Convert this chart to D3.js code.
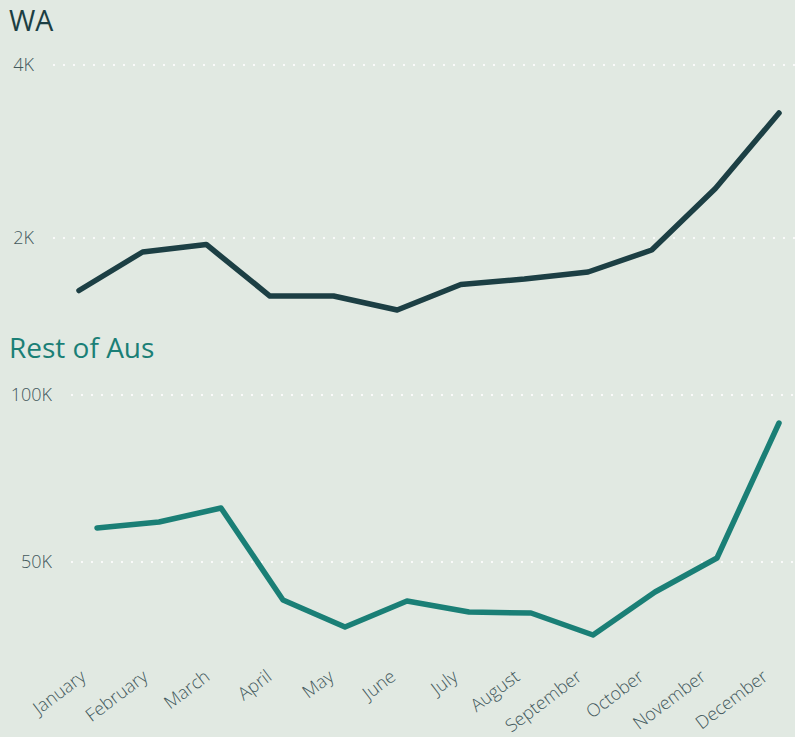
<!DOCTYPE html>
<html>
<head>
<meta charset="utf-8">
<script src="https://cdn.jsdelivr.net/npm/d3@7.9.0/dist/d3.min.js"></script>
<style>
  html, body { margin: 0; padding: 0; background: #e1e9e2; }
  svg { display: block; font-family: "Segoe UI", "Open Sans", sans-serif; }
  .tick-label { font-size: 18px; font-weight: 300; fill: #44595d; }
  .month-label { font-size: 18px; font-weight: 300; fill: #44595d; }
</style>
</head>
<body>
<svg id="chart" width="795" height="737"></svg>
<script>
// Monthly values
const months = ['January', 'February', 'March', 'April', 'May', 'June',
  'July', 'August', 'September', 'October', 'November', 'December'];
const waValues = [1393, 1838, 1925, 1329, 1329, 1168, 1462, 1526, 1607, 1861, 2572, 3445];
const restValues = [60180, 61980, 66170, 38620, 30540, 38320, 35030, 34730, 28140, 41020, 51200, 91620];
const waTicks = [2000, 4000];
const restTicks = [50000, 100000];

const width = 795;
const svg = d3.select('#chart');

const fmtK = (d) => `${d / 1000}K`;

const panels = [
  {
    title: 'WA', titleY: 31, titleSize: 28.5, color: '#1c3f44',
    values: waValues, ticks: waTicks,
    left: 53, domain: [1000, 4000], range: [324.5, 65],
  },
  {
    title: 'Rest of Aus', titleY: 358, titleSize: 28, color: '#1a7f76',
    values: restValues, ticks: restTicks,
    left: 71, domain: [50000, 100000], range: [562, 395],
  },
];

panels.forEach((p) => {
  const x = d3.scalePoint().domain(months).range([p.left + 26, width - 16]);
  const y = d3.scaleLinear().domain(p.domain).range(p.range);
  p.x = x;

  const g = svg.append('g');

  g.append('text')
    .attr('x', 9)
    .attr('y', p.titleY)
    .attr('font-size', p.titleSize)
    .attr('fill', p.color)
    .text(p.title);

  // dotted gridlines + labels
  const grid = g.selectAll('g.grid')
    .data(p.ticks)
    .join('g')
    .attr('class', 'grid')
    .attr('transform', (d) => `translate(0,${y(d)})`);

  grid.append('line')
    .attr('x1', p.left)
    .attr('x2', width)
    .attr('stroke', '#fafafa')
    .attr('stroke-width', 2)
    .attr('stroke-dasharray', '2,8');

  grid.append('text')
    .attr('class', 'tick-label')
    .attr('x', p.left - 19)
    .attr('dy', '0.35em')
    .attr('text-anchor', 'end')
    .text(fmtK);

  const line = d3.line()
    .x((d, i) => x(months[i]))
    .y((d) => y(d));

  g.append('path')
    .datum(p.values)
    .attr('d', line)
    .attr('fill', 'none')
    .attr('stroke', p.color)
    .attr('stroke-width', 5.5)
    .attr('stroke-linecap', 'round')
    .attr('stroke-linejoin', 'round');
});

// rotated month labels under the lower panel
const xBottom = panels[1].x;
svg.append('g')
  .selectAll('text')
  .data(months)
  .join('text')
  .attr('class', 'month-label')
  .attr('text-anchor', 'end')
  .attr('transform', (d) => `translate(${xBottom(d) - 10},679) rotate(-37)`)
  .text((d) => d);
</script>
</body>
</html>
